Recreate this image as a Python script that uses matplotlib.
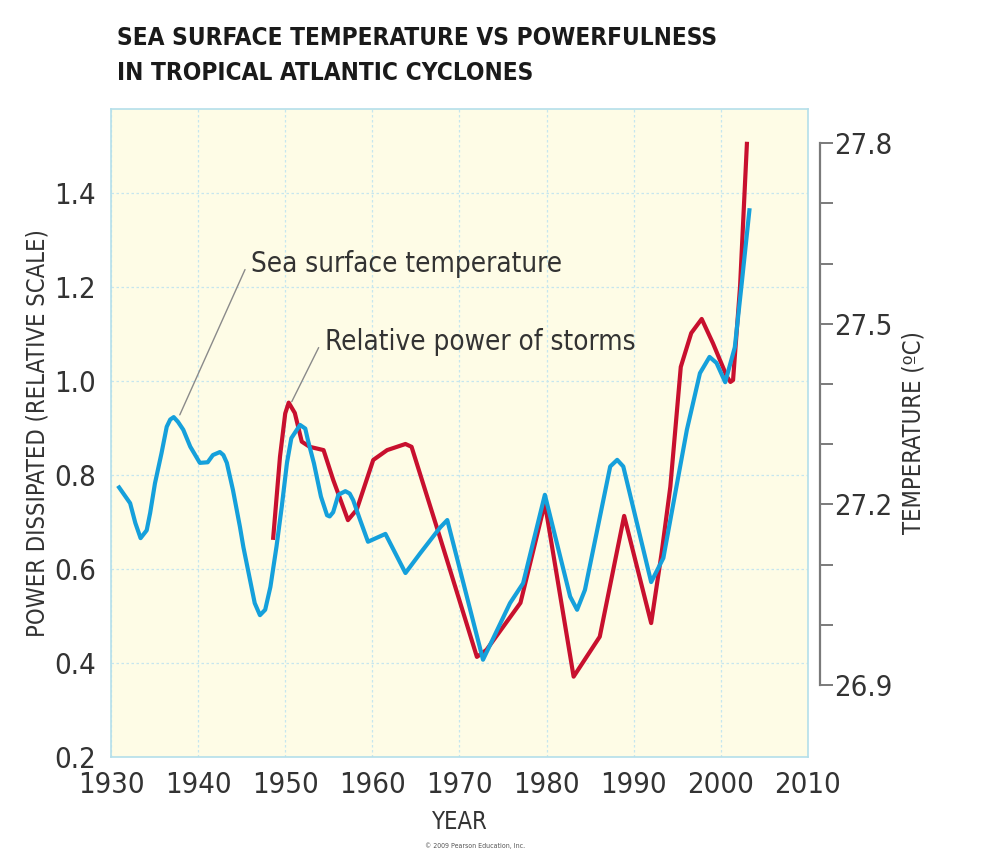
import matplotlib
matplotlib.use("Agg")
from matplotlib import pyplot as plt
from matplotlib import font_manager
from matplotlib.ticker import FixedLocator

# power dissipated by storms (relative scale)
storm_years = [1948.6, 1949.4, 1950.0, 1950.4, 1951.1, 1951.9, 1952.8, 1954.4,
               1955.5, 1957.2, 1958.2, 1960.1, 1961.7, 1963.8, 1964.5, 1967.8,
               1972.0, 1973.1, 1977.0, 1979.8, 1983.1, 1986.1, 1988.9, 1992.0,
               1993.2, 1994.2, 1995.4, 1996.6, 1997.8, 1999.1, 2000.7, 2001.1,
               2001.4, 2002.2, 2003.0]
storm_power = [0.662, 0.839, 0.931, 0.954, 0.932, 0.871, 0.860, 0.853,
               0.790, 0.704, 0.726, 0.832, 0.853, 0.866, 0.860, 0.665,
               0.413, 0.428, 0.528, 0.740, 0.371, 0.456, 0.713, 0.485,
               0.634, 0.775, 1.030, 1.102, 1.132, 1.080, 1.009, 0.998,
               1.002, 1.200, 1.509]

# sea surface temperature (deg C)
sst_years = [1930.8, 1932.2, 1932.8, 1933.4, 1934.1, 1934.5, 1935.05, 1935.8,
             1936.4, 1936.8, 1937.2, 1937.7, 1938.3, 1939.1, 1940.2, 1941.1,
             1941.7, 1942.5, 1942.9, 1943.3, 1944.0, 1944.8, 1945.2, 1945.8,
             1946.5, 1947.1, 1947.7, 1948.3, 1949.0, 1949.6, 1950.2, 1950.7,
             1951.7, 1952.3, 1952.6, 1953.3, 1954.1, 1954.8, 1955.1, 1955.5,
             1956.1, 1956.9, 1957.4, 1957.8, 1958.6, 1959.5, 1961.5, 1963.8,
             1965.5, 1967.8, 1968.6, 1972.7, 1975.8, 1977.3, 1979.8, 1982.7,
             1983.5, 1984.4, 1987.3, 1988.1, 1988.8, 1992.0, 1993.4, 1996.1,
             1997.6, 1998.7, 1999.5, 2000.5, 2001.6, 2002.4, 2003.3]
sst_temp = [27.231, 27.202, 27.169, 27.144, 27.157, 27.186, 27.235, 27.285,
            27.329, 27.341, 27.345, 27.337, 27.324, 27.296, 27.269, 27.270,
            27.282, 27.287, 27.282, 27.269, 27.224, 27.163, 27.129, 27.086,
            27.036, 27.016, 27.025, 27.063, 27.130, 27.196, 27.269, 27.310,
            27.332, 27.326, 27.307, 27.268, 27.213, 27.182, 27.180, 27.187,
            27.216, 27.222, 27.218, 27.207, 27.174, 27.138, 27.151, 27.086,
            27.119, 27.162, 27.174, 26.942, 27.036, 27.069, 27.216, 27.047,
            27.025, 27.058, 27.263, 27.274, 27.263, 27.071, 27.111, 27.324,
            27.418, 27.445, 27.435, 27.403, 27.461, 27.568, 27.692]

year_ticks = [1930, 1940, 1950, 1960, 1970, 1980, 1990, 2000, 2010]
power_ticks = [0.2, 0.4, 0.6, 0.8, 1.0, 1.2, 1.4]
temp_ticks = [26.9, 27.2, 27.5, 27.8]
temp_minor = [27.0, 27.1, 27.3, 27.4, 27.6, 27.7]

names = {f.name for f in font_manager.fontManager.ttflist}
if "Liberation Sans Narrow" in names:
    narrow = dict(family="Liberation Sans Narrow")
else:
    narrow = dict(family="DejaVu Sans", stretch="condensed")

red = "#c8102e"
blue = "#15a0db"
grid_c = "#c6e6ee"
text_c = "#333333"


def narrow_labels(labels):
    for lab in labels:
        lab.set_fontfamily(narrow["family"])
        if "stretch" in narrow:
            lab.set_fontstretch(narrow["stretch"])


fig = plt.figure(figsize=(9.82, 8.55), dpi=100)
ax = fig.add_axes([0.113, 0.1146, 0.7098, 0.7579])
ax.set_facecolor("#fefce6")
ax.set_xlim(1930, 2010)
ax.set_ylim(0.2, 1.5787)

for s in ax.spines.values():
    s.set_color("#b4dfea")
    s.set_linewidth(1.2)

ax.set_xticks(year_ticks)
ax.set_yticks(power_ticks)
ax.set_yticklabels([f"{v:.1f}" for v in power_ticks])
ax.tick_params(length=0, labelsize=21, labelcolor=text_c)
ax.tick_params(axis="x", pad=10)
ax.tick_params(axis="y", pad=11)
narrow_labels(ax.get_xticklabels() + ax.get_yticklabels())
ax.grid(True, color=grid_c, lw=0.9, ls=(0, (2, 2)))
ax.set_axisbelow(True)

ax.plot(storm_years, storm_power, color=red, lw=3.0, solid_joinstyle="round",
        solid_capstyle="butt", zorder=3)

tx = ax.twinx()
tx.set_ylim(26.7804, 27.8568)
tx.plot(sst_years, sst_temp, color=blue, lw=3.0, solid_joinstyle="round",
        solid_capstyle="butt", zorder=4)
for k in ["top", "left", "bottom"]:
    tx.spines[k].set_visible(False)
tx.spines["right"].set_position(("outward", 9))
tx.spines["right"].set_bounds(26.9, 27.8)
tx.spines["right"].set_color("#7a7a7a")
tx.spines["right"].set_linewidth(1.6)
tx.yaxis.set_major_locator(FixedLocator(temp_ticks))
tx.yaxis.set_minor_locator(FixedLocator(temp_minor))
tx.set_yticklabels([f"{v:.1f}" for v in temp_ticks])
tx.tick_params(which="both", direction="out", length=9, width=1.4,
               color="#7a7a7a", labelsize=21, labelcolor=text_c, pad=1)
narrow_labels(tx.get_yticklabels())

ax.set_ylabel("POWER DISSIPATED (RELATIVE SCALE)", fontsize=17, color=text_c,
              labelpad=3, **narrow)
tx.set_ylabel("TEMPERATURE (ºC)", fontsize=17, color=text_c, labelpad=6,
              **narrow)
ax.set_xlabel("YEAR", fontsize=17, color=text_c, labelpad=8, **narrow)

fig.text(0.484, 0.0105, "© 2009 Pearson Education, Inc.", fontsize=5,
         color="#555555", ha="center", va="center", **narrow)

ax.annotate("Sea surface temperature", xy=(1937.9, 0.928),
            xytext=(1946.1, 1.232), fontsize=20, color=text_c,
            va="baseline", ha="left",
            arrowprops=dict(arrowstyle="-", color="#8a8a8a", lw=1.0,
                            shrinkA=0, shrinkB=0, relpos=(-0.02, 0.3)),
            zorder=5, **narrow)
ax.annotate("Relative power of storms", xy=(1950.75, 0.956),
            xytext=(1954.55, 1.066), fontsize=20, color=text_c,
            va="baseline", ha="left",
            arrowprops=dict(arrowstyle="-", color="#8a8a8a", lw=1.0,
                            shrinkA=0, shrinkB=0, relpos=(-0.02, 0.3)),
            zorder=5, **narrow)

fig.text(0.119, 0.970, "SEA SURFACE TEMPERATURE VS POWERFULNESS\nIN TROPICAL ATLANTIC CYCLONES",
         fontsize=17.5, fontweight="bold", color="#1a1a1a", ha="left", va="top",
         linespacing=1.6, **narrow)

fig.savefig("out.png", dpi=100)
